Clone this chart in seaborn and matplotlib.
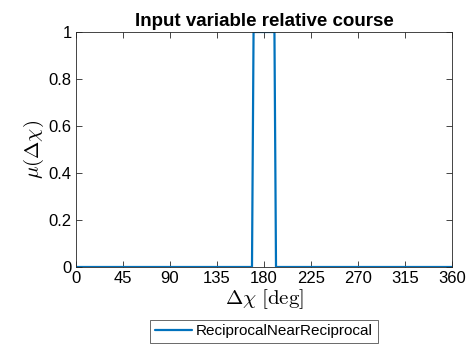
import matplotlib
matplotlib.use("Agg")
import matplotlib.pyplot as plt
import seaborn as sns
import pandas as pd

# Data
x_deg = [0, 168.5, 170, 190, 191.5, 360]
mu = [0, 0, 1, 1, 0, 0]
series_name = "ReciprocalNearReciprocal"
x_ticks = [0, 45, 90, 135, 180, 225, 270, 315, 360]
y_ticks = [0, 0.2, 0.4, 0.6, 0.8, 1]
y_ticklabels = ["0", "0.2", "0.4", "0.6", "0.8", "1"]

sns.set_style("ticks")
plt.rcParams['font.family'] = ['Liberation Sans', 'DejaVu Sans']
plt.rcParams['mathtext.fontset'] = 'cm'
plt.rcParams['text.color'] = '#000000'
plt.rcParams['axes.labelcolor'] = '#000000'
plt.rcParams['xtick.labelcolor'] = '#000000'
plt.rcParams['ytick.labelcolor'] = '#000000'

df = pd.DataFrame({"x": x_deg, "mu": mu, "series": series_name})

fig = plt.figure(figsize=(4.74, 3.55), dpi=100)
ax = fig.add_axes([76/474, 88/355, 376/474, 235/355])
sns.lineplot(data=df, x="x", y="mu", hue="series", palette=["#0072BD"],
             linewidth=1.6, ax=ax, sort=False, estimator=None)

ax.set_xlim(0, 360)
ax.set_ylim(0, 1)
ax.set_xticks(x_ticks)
ax.set_xticklabels([str(t) for t in x_ticks])
ax.set_yticks(y_ticks)
ax.set_yticklabels(y_ticklabels)
ax.tick_params(direction='in', top=True, right=True, labelsize=12,
               length=4, width=0.6, color='#262626', pad=3)
for s in ax.spines.values():
    s.set_linewidth(0.6)
    s.set_color('#262626')
ax.set_xlabel(r'$\Delta\chi\ \mathrm{[deg]}$', fontsize=15, labelpad=1)
ax.set_ylabel(r'$\mu(\Delta\chi)$', fontsize=15, labelpad=2)
ax.set_title('Input variable relative course', fontsize=13.5, fontweight='bold', pad=4)

leg = ax.legend(loc='upper center', bbox_to_anchor=(0.5, -0.225), ncol=1,
                fontsize=11, frameon=True, fancybox=False, edgecolor='#262626',
                handlelength=2.4, handletextpad=0.3, borderpad=0.3,
                borderaxespad=0)
leg.get_frame().set_linewidth(0.6)

fig.savefig("out.png", dpi=100)
